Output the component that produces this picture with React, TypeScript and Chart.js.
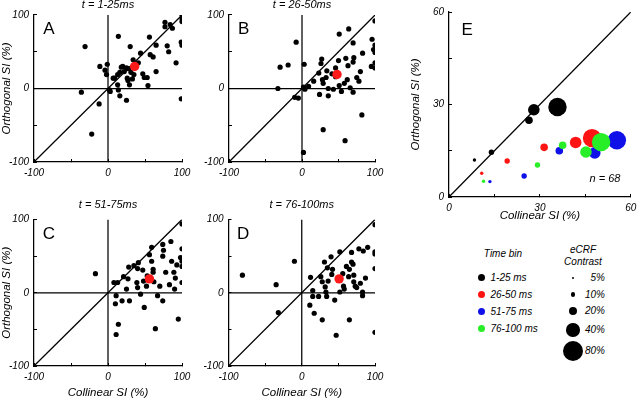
import React, { useEffect, useRef } from 'react';
import { Chart, registerables } from 'chart.js';

Chart.register(...registerables);

const FONT = '"Liberation Sans", Arial, Helvetica, sans-serif';

// ---------- Data ----------
// Panel A: t = 1-25 ms
const aCollinear = [-31, 14, -36, -12, -22, -11, -4, -1, -2, 2, 3, 7, 13, 14, 16, 25, 30, 16, 18, 22, 25, 28, 26, 27, 33, 35, 34, 41, 44, 47, 49, 53, 54, 56, 57, 61, 65, 65, 80, 82, 77, 77, 84, 87, 92, 100, 100, 100, 99, 100, 99, 20, 9, 13, 29, 31];
const aOrthogonal = [57, 71, -5, -21, -62, 30, 25, 33, 19, -2, -4, 14, 5, -2, -10, -16, 57, 22, 29, 23, 28, 27, 14, 11, 13, 19, 39, 35, 48, 20, 15, 15, 4, 70, 46, 43, 59, 23, 58, 50, 90, 84, 87, 82, 35, 100, 95, 91, 63, 59, -14, 30, 14, 19, 5, 22];
const aMean = [36, 30];

// Panel B: t = 26-50 ms
const bCollinear = [-30, -33, -19, -8, 3, -10, -5, 2, 4, 2, 9, 16, 23, 26, 27, 28, 29, 24, 33, 34, 36, 36, 29, 41, 43, 46, 46, 50, 51, 51, 54, 60, 62, 64, 63, 70, 70, 71, 66, 70, 59, 83, 80, 78, 82, 96, 95, 98, 100, 100, 100, 100, 100, 75, 58];
const bOrthogonal = [29, 0, 32, 63, 33, -12, -13, 2, -1, -87, 3, 10, 21, 34, 40, 12, 7, -8, 15, 24, 0, -10, -56, 20, -1, 16, 28, 38, 74, 4, -4, 41, 12, 81, 31, 36, 62, 42, 1, -5, -71, 48, 23, 10, -36, 67, 30, 53, 92, 59, 49, 35, 28, 15, 7];
const bMean = [48, 19];

// Panel C: t = 51-75 ms
const cCollinear = [-17, 8, 13, 11, 10, 14, 11, 21, 19, 27, 28, 25, 29, 35, 40, 39, 40, 41, 44, 47, 49, 52, 53, 48, 56, 59, 59, 61, 62, 61, 64, 67, 70, 74, 74, 75, 74, 78, 83, 85, 86, 90, 91, 93, 95, 98, 100, 100, 100, 100, 100, 89];
const cOrthogonal = [26, 14, 14, -4, -15, -43, -57, 22, -11, 19, 35, 5, -11, 37, 33, 14, 7, 41, -2, 31, -20, 9, 23, 16, 52, 62, 43, 28, 15, 32, -49, -4, 9, -11, 66, 58, 50, 28, 11, 70, 43, 5, 20, 38, -36, 48, 94, 60, 43, 36, 14, 28];
const cMean = [56, 19];

// Panel D: t = 76-100 ms
const dCollinear = [-81, -35, -32, -10, 12, 11, 15, 15, 17, 23, 26, 28, 28, 31, 32, 33, 34, 35, 36, 40, 42, 45, 47, 52, 52, 56, 57, 58, 61, 65, 64, 65, 68, 68, 70, 71, 71, 73, 75, 78, 80, 83, 83, 84, 87, 90, 100, 100, 100, 100, 100, 41];
const dOrthogonal = [24, 11, -27, 43, 21, -17, 3, -5, -28, -5, 22, 15, -37, 42, 8, 1, -5, 34, 16, 49, 32, -10, -58, 56, 1, 26, 9, 5, 36, 32, 22, -37, 55, 42, 39, 24, 15, 9, 7, 60, 13, -4, 1, 57, 20, 62, 93, 56, 53, 33, -54, 25];
const dMean = [51, 19];

// Panel E: population means by time bin and eCRF contrast
const contrasts = [5, 10, 20, 40, 80];
const timeBins = ['1-25 ms', '26-50 ms', '51-75 ms', '76-100 ms'];
const eBin1X = [8.4, 14, 26.4, 28, 35.8];
const eBin1Y = [12, 14.5, 24.9, 28.3, 29.2];
const eBin2X = [10.8, 19.2, 31.4, 41.8, 47.2];
const eBin2Y = [7.7, 11.7, 16.1, 17.7, 19.1];
const eBin3X = [13.5, 24.8, 36.4, 48.1, 55.4];
const eBin3Y = [5, 6.8, 15, 14.3, 18.4];
const eBin4X = [11.4, 29.2, 37.5, 45.2, 50.2];
const eBin4Y = [5.1, 10.4, 16.8, 14.6, 17.8];
const eN = 68;

const abcdRange = [-100, 100];
const abcdLabeled = [-100, 0, 100];
const eRange = [0, 60];
const eLabeled = [0, 30, 60];

// ---------- Styles ----------
const binColors = ['#000000', '#ff1414', '#1010e8', '#28ee28'];
const contrastRadius = [1.7, 2.7, 3.8, 5.8, 9.2];
const legendDiam = [2.8, 4.8, 8.4, 13.4, 20.6];
const LINE_W = 1.25;

const tickFont = { family: FONT, size: 10, style: 'italic' as const, weight: 'normal' as const };
const titleFont = { family: FONT, size: 11.5, style: 'italic' as const, weight: 'normal' as const, lineHeight: 1.2 };
const panelTitleFont = { family: FONT, size: 11, style: 'italic' as const, weight: 'normal' as const, lineHeight: 1.2 };

const textPlugin = {
  id: 'panelText',
  afterDatasetsDraw(chart: any, _args: any, opts: any) {
    const items = (opts && opts.items) || [];
    const ctx = chart.ctx;
    const xs = chart.scales.x;
    const ys = chart.scales.y;
    ctx.save();
    for (const it of items) {
      ctx.font = it.font;
      ctx.fillStyle = '#000';
      ctx.textAlign = 'center';
      ctx.textBaseline = 'middle';
      ctx.fillText(it.text, xs.getPixelForValue(it.x), ys.getPixelForValue(it.y));
    }
    ctx.restore();
  },
};

function axis(opts: any) {
  const { range, labeled, step, isX, fixed, title } = opts;
  return {
    type: 'linear',
    position: isX ? 'bottom' : 'left',
    min: range[0],
    max: range[1],
    afterFit: (s: any) => {
      if (isX) s.height = fixed;
      else s.width = fixed;
      s.paddingLeft = 0;
      s.paddingRight = 0;
      s.paddingTop = 0;
      s.paddingBottom = 0;
    },
    ticks: {
      stepSize: step,
      autoSkip: false,
      maxRotation: 0,
      minRotation: 0,
      padding: 8,
      color: '#000',
      font: tickFont,
      callback: (v: number) => (labeled.includes(v) ? String(v) : ''),
    },
    grid: {
      display: true,
      drawOnChartArea: false,
      drawTicks: true,
      tickLength: -3,
      color: '#000',
      lineWidth: 1,
    },
    border: { display: true, color: '#000', width: LINE_W },
    title: {
      display: !!title,
      text: title || '',
      color: '#000',
      font: titleFont,
      padding: { top: 0, bottom: 0 },
    },
  };
}

function refLine(points: { x: number; y: number }[]) {
  return {
    data: points,
    showLine: true,
    borderColor: '#000',
    borderWidth: LINE_W,
    pointRadius: 0,
    fill: false,
    order: 10,
  };
}

function scatterConfig(p: any) {
  const dots = p.xs.map((x: number, i: number) => ({ x, y: p.ys[i] }));
  const [lo, hi] = abcdRange;
  return {
    type: 'scatter',
    data: {
      datasets: [
        { data: [{ x: p.mean[0], y: p.mean[1] }], backgroundColor: '#ff1a1a', borderWidth: 0, pointRadius: 4.7, order: 0 },
        { data: dots, backgroundColor: '#000', borderWidth: 0, pointRadius: 2.6, order: 1 },
        refLine([{ x: lo, y: lo }, { x: hi, y: hi }]),
        refLine([{ x: lo, y: 0 }, { x: hi, y: 0 }]),
        refLine([{ x: 0, y: lo }, { x: 0, y: hi }]),
      ],
    },
    options: {
      responsive: false,
      animation: false,
      events: [],
      devicePixelRatio: 1,
      layout: { padding: p.padding },
      scales: {
        x: axis({ range: abcdRange, labeled: abcdLabeled, step: 50, isX: true, fixed: p.hx, title: p.xTitle }),
        y: axis({ range: abcdRange, labeled: abcdLabeled, step: 50, isX: false, fixed: p.wy, title: p.yTitle }),
      },
      plugins: {
        legend: { display: false },
        tooltip: { enabled: false },
        title: {
          display: true,
          text: p.title,
          color: '#000',
          font: panelTitleFont,
          fullSize: false,
          padding: { top: 0, bottom: p.titlePadBottom },
        },
        panelText: { items: [{ text: p.letter, x: -80, y: 80, font: `17px ${FONT}` }] },
      },
    },
    plugins: [textPlugin],
  };
}

function eConfig() {
  const bins = [
    [eBin1X, eBin1Y],
    [eBin2X, eBin2Y],
    [eBin3X, eBin3Y],
    [eBin4X, eBin4Y],
  ];
  const [lo, hi] = eRange;
  const ds: any[] = bins.map(([xs, ys], b) => ({
    data: xs.map((x, i) => ({ x, y: ys[i] })),
    backgroundColor: binColors[b],
    borderWidth: 0,
    pointRadius: contrasts.map((_, i) => contrastRadius[i]),
    order: bins.length - b,
  }));
  ds.push(refLine([{ x: lo, y: lo }, { x: hi, y: hi }]));
  return {
    type: 'scatter',
    data: { datasets: ds },
    options: {
      responsive: false,
      animation: false,
      events: [],
      devicePixelRatio: 1,
      layout: { padding: { left: 9, top: 14, right: 6, bottom: 5 } },
      scales: {
        x: axis({ range: eRange, labeled: eLabeled, step: 15, isX: true, fixed: 26, title: 'Collinear SI (%)' }),
        y: axis({ range: eRange, labeled: eLabeled, step: 15, isX: false, fixed: 40, title: 'Orthogonal SI (%)' }),
      },
      plugins: {
        legend: { display: false },
        tooltip: { enabled: false },
        title: { display: false },
        panelText: {
          items: [
            { text: 'E', x: 6, y: 54, font: `17px ${FONT}` },
            { text: `n = ${eN}`, x: 51.5, y: 6, font: `italic 11px ${FONT}` },
          ],
        },
      },
    },
    plugins: [textPlugin],
  };
}

function ChartCanvas({ box, make }: { box: { x: number; y: number; w: number; h: number }; make: () => any }) {
  const ref = useRef<HTMLCanvasElement | null>(null);
  useEffect(() => {
    const chart = new Chart(ref.current as HTMLCanvasElement, make());
    return () => chart.destroy();
  }, []);
  return (
    <canvas
      ref={ref}
      width={box.w}
      height={box.h}
      style={{ position: 'absolute', left: box.x, top: box.y, width: box.w, height: box.h }}
    />
  );
}

function Txt({ x, y, align = 'center', size = 10, children }: any) {
  const tx = align === 'center' ? '-50%' : align === 'right' ? '-100%' : '0';
  return (
    <div
      style={{
        position: 'absolute',
        left: x,
        top: y,
        transform: `translate(${tx}, -50%)`,
        fontFamily: FONT,
        fontStyle: 'italic',
        fontSize: size,
        lineHeight: 1,
        whiteSpace: 'nowrap',
        color: '#000',
      }}
    >
      {children}
    </div>
  );
}

function Dot({ x, y, d, color }: any) {
  return (
    <div
      style={{
        position: 'absolute',
        left: x - d / 2,
        top: y - d / 2,
        width: d,
        height: d,
        borderRadius: '50%',
        background: color,
      }}
    />
  );
}

export default function App() {
  const binRows = [277.5, 294.5, 311.5, 328.5];
  const sizeRows = [278, 294.5, 311, 330, 351];
  return (
    <div style={{ position: 'fixed', left: 0, top: 0, width: 640, height: 401, background: '#fff', overflow: 'hidden' }}>
      <ChartCanvas
        box={{ x: 0, y: -2, w: 200, h: 190 }}
        make={() =>
          scatterConfig({
            xs: aCollinear, ys: aOrthogonal, mean: aMean, title: 't = 1-25ms', letter: 'A',
            yTitle: 'Orthogonal SI (%)', wy: 34, hx: 22, titlePadBottom: 3.4,
            padding: { left: 0, top: 0.4, right: 18, bottom: 4 },
          })
        }
      />
      <ChartCanvas
        box={{ x: 196, y: -2, w: 200, h: 190 }}
        make={() =>
          scatterConfig({
            xs: bCollinear, ys: bOrthogonal, mean: bMean, title: 't = 26-50ms', letter: 'B',
            wy: 33, hx: 22, titlePadBottom: 3.4,
            padding: { left: 0, top: 0.4, right: 21, bottom: 4 },
          })
        }
      />
      <ChartCanvas
        box={{ x: 0, y: 186, w: 200, h: 215 }}
        make={() =>
          scatterConfig({
            xs: cCollinear, ys: cOrthogonal, mean: cMean, title: 't = 51-75ms', letter: 'C',
            yTitle: 'Orthogonal SI (%)', xTitle: 'Collinear SI (%)', wy: 34, hx: 34, titlePadBottom: 8,
            padding: { left: 0, top: 12.3, right: 18, bottom: 1 },
          })
        }
      />
      <ChartCanvas
        box={{ x: 196, y: 186, w: 200, h: 215 }}
        make={() =>
          scatterConfig({
            xs: dCollinear, ys: dOrthogonal, mean: dMean, title: 't = 76-100ms', letter: 'D',
            xTitle: 'Collinear SI (%)', wy: 32.5, hx: 34, titlePadBottom: 8,
            padding: { left: 0, top: 12.3, right: 21, bottom: 1 },
          })
        }
      />
      <ChartCanvas box={{ x: 400, y: -2, w: 240, h: 230 }} make={eConfig} />

      {/* Legend: time bins */}
      <Txt x={503} y={253.5}>Time bin</Txt>
      {timeBins.map((t, i) => (
        <React.Fragment key={t}>
          <Dot x={481} y={binRows[i]} d={7} color={binColors[i]} />
          <Txt x={490.5} y={binRows[i]} align="left">{t}</Txt>
        </React.Fragment>
      ))}

      {/* Legend: eCRF contrast */}
      <Txt x={583} y={250}>eCRF</Txt>
      <Txt x={583} y={261.5}>Contrast</Txt>
      {contrasts.map((c, i) => (
        <React.Fragment key={c}>
          <Dot x={573} y={sizeRows[i]} d={legendDiam[i]} color="#000" />
          <Txt x={605} y={sizeRows[i]} align="right">{`${c}%`}</Txt>
        </React.Fragment>
      ))}
    </div>
  );
}
